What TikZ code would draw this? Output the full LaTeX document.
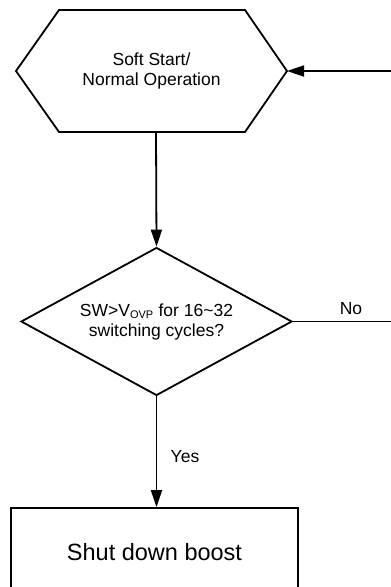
\documentclass[tikz,border=0pt]{standalone}
\usepackage{fontspec}
\setmainfont{Liberation Sans}
\usetikzlibrary{shapes.geometric,arrows.meta}
\begin{document}
\begin{tikzpicture}[x=1pt,y=-1pt,
  line width=1.8pt,
  every node/.style={font=\fontsize{17.5}{20}\selectfont, align=center},
  arr/.style={-{Triangle[length=17pt,width=11pt]}},
  decision/.style={draw, diamond, aspect=1.83, minimum width=271pt, minimum height=148pt, inner sep=0pt},
  procbox/.style={draw, rectangle, minimum width=287pt, minimum height=88pt, inner sep=0pt},
  lbl/.style={inner sep=1pt}]
\useasboundingbox (0,0) rectangle (391,587);
\clip (0,0) rectangle (391,587);
% hexagon (soft start)
\coordinate (hexL) at (16,71);
\coordinate (hexR) at (287,71);
\coordinate (hexB) at (156,132);
\draw[line join=miter] (hexL) -- (59,10) -- (245,10) -- (hexR) -- (245,132) -- (59,132) -- cycle;
\node (start) at (151.5,71) {Soft Start/\\Normal Operation};
% decision
\node[decision] (dec) at (156.5,321.5) {SW>V\textsubscript{\fontsize{11}{12}\selectfont OVP} for 16\textasciitilde32\\switching cycles?};
% shutdown box
\node[procbox] (shut) at (154.5,552) {\fontsize{23.5}{26}\selectfont Shut down boost};
% right-side loop ends
\coordinate (loopTop) at (395,71);
\coordinate (loopMid) at (395,321.5);
% connectors
\draw[arr] (hexB) -- (dec.north);
\draw[arr] (loopTop) -- (hexR);
\draw (dec.east) -- (loopMid);
\draw[arr] (dec.south) -- (dec.south |- shut.north);
% labels
\node[lbl] (nolbl) at (351,309) {No};
\node[lbl] (yeslbl) at (185,457) {Yes};
\end{tikzpicture}
\end{document}
